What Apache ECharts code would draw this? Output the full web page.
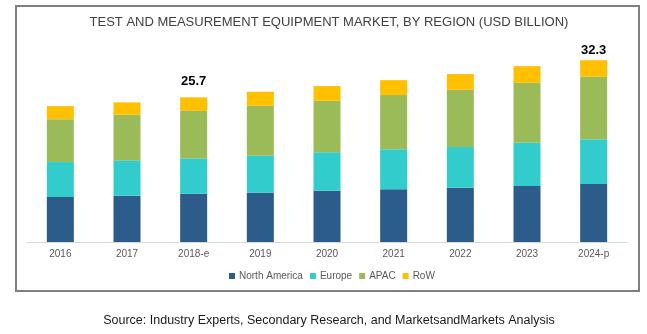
<!DOCTYPE html>
<html><head><meta charset="utf-8">
<script src="https://cdn.jsdelivr.net/npm/echarts@6/dist/echarts.min.js"></script>
<style>html,body{margin:0;padding:0;background:#fff}#c{width:647px;height:334px}</style>
</head><body><div id="c"></div>
<script>
const categories = ['2016','2017','2018-e','2019','2020','2021','2022','2023','2024-p'];
const northAmerica = [7.99, 8.22, 8.57, 8.75, 9.11, 9.36, 9.64, 9.94, 10.30];
const europe = [6.21, 6.28, 6.28, 6.57, 6.82, 7.10, 7.23, 7.69, 7.94];
const apac = [7.63, 8.10, 8.45, 8.88, 9.16, 9.64, 10.17, 10.65, 11.11];
const row = [2.31, 2.20, 2.40, 2.49, 2.61, 2.66, 2.79, 2.96, 2.95];
const totalLabels = ['', '', '25.7', '', '', '', '', '', '32.3'];

const chart = echarts.init(document.getElementById('c'), null, {renderer: 'canvas'});
const txt = '#595959';
const mk = (name, data, color) => ({
  name, type: 'bar', stack: 't', data, barWidth: 27,
  itemStyle: {color}, emphasis: {disabled: true}
});
const rowSeries = mk('RoW', row.map((v, i) => totalLabels[i] ? {
  value: v,
  label: {show: true, position: 'top', distance: i === 8 ? 3 : 9, formatter: totalLabels[i],
    color: '#000', fontWeight: 'bold', fontSize: 13, fontFamily: 'Liberation Sans'}
} : v), '#ffc000');

chart.setOption({
  animation: false,
  legend: {
    data: ['North America', 'Europe', 'APAC', 'RoW'],
    left: 224, top: 266, itemWidth: 6, itemHeight: 6, itemGap: 7,
    icon: 'rect', selectedMode: false,
    textStyle: {fontFamily: 'Liberation Sans', fontSize: 10, color: txt, padding: [0, 0, 0, -1]}
  },
  grid: {left: 27, right: 20, top: 45, bottom: 92},
  xAxis: {
    type: 'category', data: categories,
    axisLine: {lineStyle: {color: '#d9d9d9'}},
    axisTick: {show: false},
    axisLabel: {color: txt, fontFamily: 'Liberation Sans', fontSize: 10, margin: 7}
  },
  yAxis: {type: 'value', min: 0, max: 35, show: false, splitLine: {show: false}},
  series: [
    mk('North America', northAmerica, '#2b5c8a'),
    mk('Europe', europe, '#33cccc'),
    mk('APAC', apac, '#9bbb59'),
    rowSeries
  ],
  graphic: [
    {type: 'rect', shape: {x: 16, y: 6, width: 623, height: 285},
      style: {fill: null, stroke: '#7f7f7f', lineWidth: 2}, silent: true},
    {type: 'text', x: 329, y: 22, silent: true,
      style: {text: 'TEST AND MEASUREMENT EQUIPMENT MARKET, BY REGION (USD BILLION)',
        fill: '#404040', font: '13px "Liberation Sans"', textAlign: 'center', textVerticalAlign: 'middle'}},
    {type: 'text', x: 329, y: 321, silent: true,
      style: {text: 'Source: Industry Experts, Secondary Research, and MarketsandMarkets Analysis',
        fill: '#1a1a1a', font: '12.5px "Liberation Sans"', textAlign: 'center', textVerticalAlign: 'middle'}}
  ]
});
</script></body></html>
